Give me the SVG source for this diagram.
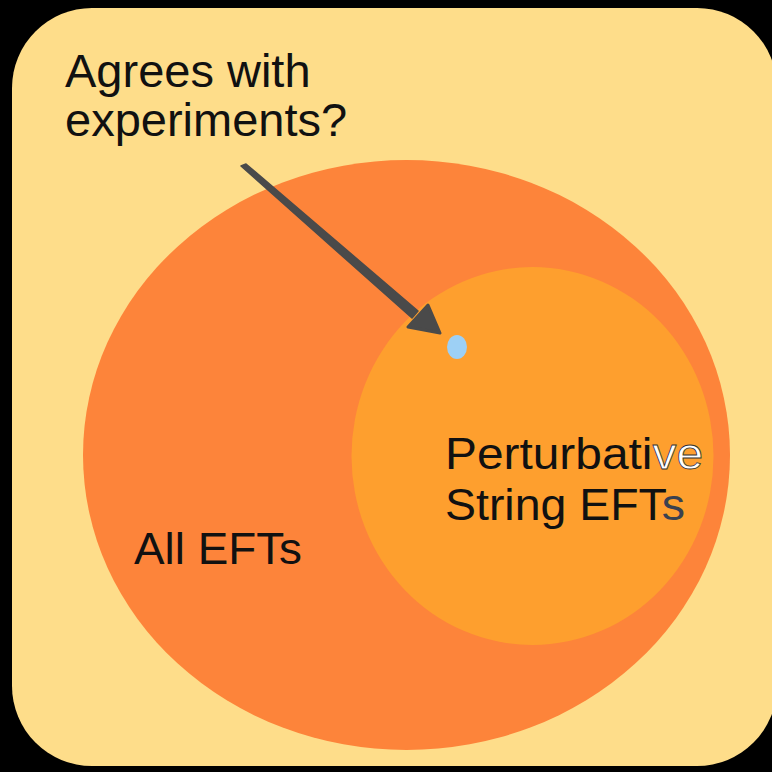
<svg xmlns="http://www.w3.org/2000/svg" width="772" height="772" viewBox="0 0 772 772">
  <style>
    .lbl { font-family: "Liberation Sans", Arial, sans-serif; fill: #111; }
  </style>
  <rect x="0" y="0" width="772" height="772" fill="#000"/>
  <rect id="panel" x="12" y="8" width="765" height="758" rx="80" ry="80" fill="#FEDD8A"/>
  <g id="all-efts">
    <ellipse cx="406.5" cy="455" rx="323.5" ry="295" fill="#FD843A"/>
    <text class="lbl" x="134" y="564" font-size="44" textLength="168" lengthAdjust="spacingAndGlyphs">All EFTs</text>
  </g>
  <g id="string-efts">
    <ellipse cx="532.5" cy="456" rx="181" ry="189" fill="#FE9F2E"/>
    <text class="lbl" x="445" y="469" font-size="45" textLength="258" lengthAdjust="spacingAndGlyphs">Perturbati<tspan fill="#fff" stroke="#333" stroke-width="0.8">ve</tspan></text>
    <text class="lbl" x="445" y="520" font-size="44" textLength="240" lengthAdjust="spacingAndGlyphs">String EFT<tspan fill="#3a4150">s</tspan></text>
  </g>
  <g id="experiments">
    <ellipse cx="457" cy="347" rx="10" ry="12" fill="#9DD0F5"/>
    <text class="lbl" x="65" y="87" font-size="47">Agrees with</text>
    <text class="lbl" x="65" y="136" font-size="47">experiments?</text>
  </g>
  <g id="connectors">
    <polygon points="241,166 246,164 418,311 412,318" fill="#4A4A4A" stroke="#4A4A4A" stroke-width="1.5" stroke-linejoin="round"/>
    <polygon points="408,327 428,305 440,333" fill="#4A4A4A" stroke="#4A4A4A" stroke-width="3" stroke-linejoin="round"/>
  </g>
</svg>
